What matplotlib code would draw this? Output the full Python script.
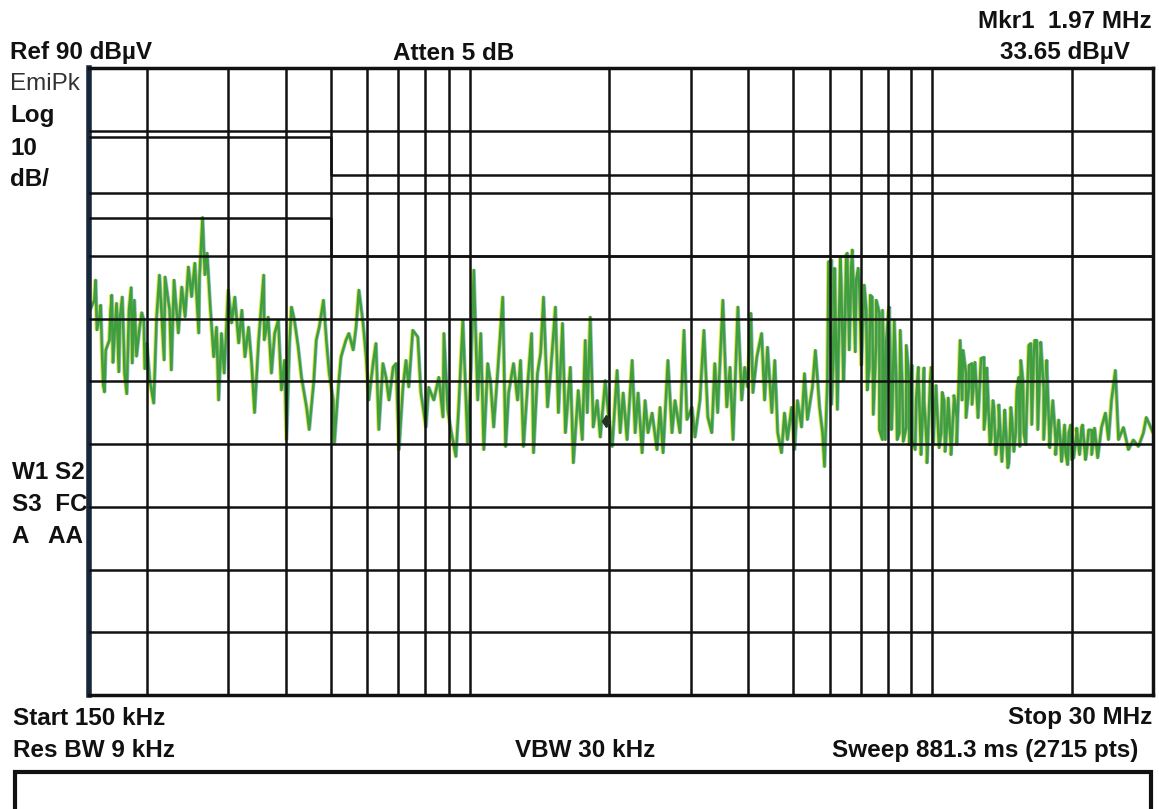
import numpy as np
import matplotlib.pyplot as plt
import matplotlib.transforms as mtransforms
from matplotlib.patches import Rectangle

W, H = 1159, 809

# trace (MHz, dBuV)
trace_lo = [(0.150, 51.0), (0.154, 53.0), (0.155, 56.2), (0.158, 50.3), (0.160, 45.0), (0.162, 38.3),
            (0.166, 46.6), (0.167, 51.4), (0.170, 46.6), (0.172, 52.5), (0.175, 50.3), (0.177, 53.5),
            (0.179, 41.3), (0.183, 51.4), (0.186, 42.9), (0.188, 53.0), (0.193, 48.7), (0.197, 49.8),
            (0.200, 46.1), (0.203, 40.2), (0.207, 36.5), (0.210, 50.3), (0.213, 57.0), (0.218, 43.4),
            (0.219, 56.7), (0.224, 51.4), (0.226, 41.8), (0.229, 56.2), (0.234, 47.7), (0.238, 55.1),
            (0.242, 50.3), (0.246, 58.3), (0.250, 53.5), (0.254, 58.9), (0.259, 47.7), (0.260, 56.7),
            (0.264, 66.2), (0.267, 57.0), (0.270, 60.5), (0.274, 52.5), (0.279, 43.9), (0.283, 48.7),
            (0.286, 37.0), (0.290, 47.7), (0.294, 41.3), (0.300, 54.6), (0.305, 49.3), (0.310, 53.5),
            (0.316, 46.1), (0.321, 51.4), (0.326, 43.9), (0.332, 48.7), (0.337, 42.9), (0.342, 35.0),
            (0.349, 46.6), (0.358, 57.0), (0.359, 46.6), (0.366, 50.3), (0.372, 41.3), (0.378, 47.7),
            (0.385, 49.8), (0.391, 38.6), (0.397, 43.4), (0.401, 30.7), (0.407, 46.1), (0.411, 51.9),
            (0.417, 49.8), (0.425, 45.5), (0.432, 40.7), (0.443, 35.9), (0.449, 32.3), (0.459, 39.8),
            (0.465, 46.6), (0.472, 48.7), (0.482, 53.0), (0.489, 46.6), (0.496, 41.3), (0.506, 37.0),
            (0.509, 30.2), (0.519, 39.1), (0.526, 43.9), (0.539, 46.6), (0.547, 47.7), (0.559, 45.0),
            (0.567, 48.7), (0.575, 54.6), (0.587, 49.3), (0.596, 43.9), (0.604, 37.0), (0.617, 42.9),
            (0.626, 46.1), (0.635, 32.3), (0.648, 42.9), (0.658, 40.7), (0.668, 37.0), (0.682, 42.3),
            (0.692, 42.9), (0.702, 29.1), (0.716, 39.1), (0.727, 43.4), (0.737, 39.1), (0.752, 48.2),
            (0.771, 47.1), (0.783, 38.2), (0.803, 32.7), (0.814, 39.1), (0.835, 37.0), (0.856, 40.7),
            (0.874, 34.3), (0.878, 47.7), (0.895, 35.5), (0.909, 32.3), (0.932, 28.0), (0.945, 35.9),
            (0.965, 49.8), (0.988, 30.2)]

# extra readings in the dense band just above start
band_start = [(0.156, 48.2), (0.159, 52.2), (0.161, 39.4), (0.163, 45.0), (0.168, 53.8), (0.169, 43.0),
              (0.174, 41.5), (0.178, 48.0), (0.181, 38.0), (0.185, 55.0), (0.190, 44.0), (0.195, 51.0),
              (0.198, 42.0)]

trace_mid = [(1.004, 41.3), (1.019, 57.8), (1.039, 37.0), (1.055, 47.7), (1.071, 29.1), (1.092, 42.9),
             (1.108, 39.8), (1.125, 32.7), (1.147, 41.3), (1.177, 53.5), (1.194, 29.6), (1.212, 38.2),
             (1.242, 42.9), (1.267, 37.0), (1.286, 43.4), (1.305, 29.6), (1.331, 39.1), (1.359, 47.7),
             (1.372, 28.6), (1.399, 41.3), (1.421, 44.5), (1.442, 53.5), (1.471, 35.9), (1.493, 41.3),
             (1.530, 51.9), (1.553, 35.0), (1.585, 49.3), (1.608, 31.8), (1.648, 42.3), (1.673, 27.0),
             (1.714, 38.6), (1.749, 30.7), (1.775, 46.6), (1.793, 35.0), (1.820, 50.3), (1.847, 32.7),
             (1.884, 37.0), (1.913, 31.1), (1.961, 40.2), (1.990, 35.0), (2.030, 29.6), (2.080, 41.8),
             (2.112, 31.8), (2.144, 38.2), (2.186, 30.7), (2.242, 43.4), (2.276, 31.8), (2.309, 38.2),
             (2.356, 28.6), (2.391, 37.0), (2.426, 31.8), (2.476, 35.0), (2.537, 29.1), (2.576, 35.9),
             (2.615, 28.6), (2.679, 43.4), (2.734, 31.8), (2.775, 37.0), (2.845, 31.8), (2.902, 48.2),
             (2.945, 33.9), (3.020, 35.9), (3.065, 31.1), (3.142, 37.0), (3.205, 48.2), (3.268, 34.3),
             (3.333, 31.8), (3.383, 42.9), (3.432, 35.0), (3.522, 53.0), (3.591, 35.9), (3.650, 42.3),
             (3.705, 30.7), (3.796, 51.9), (3.868, 37.0), (3.926, 42.3), (3.983, 39.1), (4.050, 50.9),
             (4.090, 38.2), (4.171, 43.9), (4.272, 47.7), (4.336, 37.0), (4.399, 45.5), (4.494, 35.0),
             (4.561, 43.4), (4.628, 31.8), (4.717, 28.6), (4.787, 35.0), (4.857, 30.7), (4.959, 35.9)]

trace_hi = [(5.033, 29.1), (5.106, 37.0), (5.212, 32.7), (5.289, 41.3), (5.366, 33.9), (5.501, 39.1),
            (5.583, 45.0), (5.700, 35.9), (5.786, 31.8), (5.843, 26.4), (5.928, 40.2), (6.050, 59.4),
            (6.140, 48.7), (6.230, 35.5), (6.353, 55.1), (6.447, 43.4), (6.542, 60.5), (6.676, 58.3),
            (6.709, 61.0), (6.841, 56.2), (6.950, 55.1), (7.054, 46.6), (7.193, 51.4), (7.300, 42.3),
            (7.410, 53.5), (7.556, 46.1), (7.680, 50.9), (7.795, 30.7), (7.949, 46.6), (8.070, 51.9),
            (8.191, 35.9), (8.352, 40.2), (8.480, 31.8), (8.607, 39.1), (8.777, 32.7), (8.910, 40.2),
            (9.044, 30.7), (9.222, 37.0), (9.320, 42.3), (9.454, 28.6), (9.594, 37.0), (9.734, 27.0),
            (9.938, 42.3), (10.09, 33.9), (10.23, 35.9), (10.44, 31.8), (10.60, 37.0), (10.75, 32.7),
            (10.97, 29.1), (11.13, 37.0), (11.29, 34.3), (11.48, 46.6), (11.59, 37.0), (11.82, 41.3),
            (12.00, 39.1), (12.18, 42.9), (12.42, 40.2), (12.61, 37.0), (12.93, 43.9), (13.11, 37.0),
            (13.38, 30.7), (13.58, 35.9), (13.92, 32.7), (14.27, 32.3), (14.63, 27.0), (14.85, 34.3),
            (15.14, 31.8), (15.38, 40.7), (15.53, 43.4), (15.76, 31.8), (16.00, 35.9), (16.32, 46.1),
            (16.56, 43.9), (16.81, 46.6), (17.15, 45.5), (17.40, 39.1), (17.66, 39.1), (18.03, 32.7),
            (18.47, 30.7), (18.94, 29.6), (19.41, 28.6), (19.71, 31.8), (20.01, 27.5), (20.50, 31.8),
            (21.02, 32.7), (21.54, 28.6), (22.10, 32.3), (22.64, 29.6), (23.21, 32.7), (23.67, 35.0),
            (24.03, 30.7), (24.39, 37.0), (24.87, 41.8), (25.26, 30.7), (25.89, 32.7), (26.54, 29.1),
            (27.20, 30.7), (27.89, 29.6), (28.59, 31.8), (29.01, 34.3), (30.00, 31.8)]

# dense band 6-11 MHz (alternating top / bottom of the band)
band_6_11 = [(5.96, 59.1), (6.05, 36.3), (6.14, 58.1), (6.23, 35.5), (6.32, 59.7), (6.42, 40.2),
             (6.51, 60.2), (6.61, 45.0), (6.71, 60.7), (6.81, 44.7), (6.91, 58.1), (7.02, 42.6),
             (7.12, 55.4), (7.23, 38.6), (7.34, 53.8), (7.45, 34.7), (7.56, 53.0), (7.68, 32.3),
             (7.80, 51.4), (7.91, 30.7), (8.03, 51.1), (8.15, 32.3), (8.27, 49.8), (8.39, 30.7),
             (8.52, 48.2), (8.65, 30.4), (8.78, 45.8), (8.91, 29.9), (9.04, 42.6), (9.18, 29.1),
             (9.32, 41.5), (9.45, 28.3), (9.59, 42.2), (9.73, 29.4), (9.89, 40.2), (10.04, 29.9),
             (10.18, 39.4), (10.34, 29.4), (10.50, 38.3), (10.65, 28.8), (10.82, 37.4), (10.97, 28.3),
             (11.13, 37.8), (11.29, 29.9)]

# dense band 11-23 MHz
band_11_23 = [(11.65, 45.0), (11.82, 34.2), (12.00, 42.6), (12.18, 36.3), (12.36, 43.1), (12.55, 34.2),
              (12.74, 43.7), (12.93, 32.3), (13.11, 42.2), (13.32, 29.9), (13.52, 37.0), (13.71, 28.3),
              (13.92, 36.3), (14.13, 27.2), (14.34, 35.5), (14.56, 26.2), (14.78, 35.9), (15.00, 28.8),
              (15.22, 38.6), (15.46, 29.6), (15.69, 40.2), (15.92, 29.9), (16.16, 45.8), (16.40, 33.1),
              (16.64, 46.6), (16.90, 32.3), (17.15, 46.3), (17.40, 30.7), (17.66, 43.4), (17.94, 29.4),
              (18.21, 37.0), (18.47, 28.3), (18.75, 33.9), (19.03, 27.2), (19.31, 33.1), (19.61, 26.7),
              (19.91, 33.1), (20.20, 27.8), (20.50, 32.6), (20.81, 28.3), (21.12, 33.1), (21.43, 27.5),
              (21.77, 32.3), (22.10, 28.3), (22.42, 32.6), (22.77, 27.8)]

# limit lines (MHz, dBuV)
qp_freq = [0.15, 0.5, 0.5, 30]
qp_level = [79, 79, 73, 73]
avg_freq = [0.15, 0.5, 0.5, 30]
avg_level = [66, 66, 60, 60]

mkr_freq = 1.97
mkr_level = 33.65

grid_freqs = [0.2, 0.3, 0.4, 0.5, 0.6, 0.7, 0.8, 0.9, 1, 2, 3, 4, 5, 6, 7, 8, 9, 10, 20]
grid_levels = [0, 10, 20, 30, 40, 50, 60, 70, 80]

trace = np.array(trace_lo + band_start + trace_mid + trace_hi + band_6_11 + band_11_23)
trace = trace[np.argsort(trace[:, 0], kind='stable')]
freq = trace[:, 0]
level = trace[:, 1]

fig = plt.figure(figsize=(W / 100, H / 100), dpi=100)
ax = fig.add_axes([89 / W, 1 - 695 / H, (1153 - 89) / W, (695 - 68) / H])
ax.set_xscale('log')
ax.set_xlim(0.15, 30)
ax.set_ylim(-10, 90)

# scan colour fringes then the trace
yel = mtransforms.offset_copy(ax.transData, fig=fig, x=-1.3, y=0, units='dots')
blu = mtransforms.offset_copy(ax.transData, fig=fig, x=1.3, y=0, units='dots')
ax.plot(freq, level, color='#e4e640', lw=1.3, transform=yel, zorder=1)
ax.plot(freq, level, color='#4f8fc0', lw=1.0, alpha=0.6, transform=blu, zorder=1)
ax.plot(freq, level, color='#3f9f3f', lw=1.8, zorder=2)

ax.plot(qp_freq, qp_level, color='#111111', lw=1.8, zorder=3)
ax.plot(avg_freq, avg_level, color='#111111', lw=1.8, zorder=3)
ax.plot([mkr_freq], [mkr_level], marker='d', ms=6, color='#223322', zorder=4)

ax.set_xticks(grid_freqs)
ax.set_xticks([], minor=True)
ax.set_yticks(grid_levels)
ax.tick_params(which='both', length=0, labelbottom=False, labelleft=False)
ax.grid(True, color='#111111', lw=1.8)
ax.set_axisbelow(False)
for s in ax.spines.values():
    s.set_linewidth(2.5)
    s.set_color('#111111')
ax.spines['left'].set_linewidth(4)
ax.spines['left'].set_color('#18283a')

font = dict(family='Liberation Sans', fontweight='bold', fontsize=17.5, color='#111111')


def put(x, y, s, ha='left', **kw):
    opts = dict(font)
    opts.update(kw)
    fig.text(x / W, 1 - y / H, s, ha=ha, va='baseline', **opts)


put(10, 59, 'Ref 90 dBµV')
put(10, 90, 'EmiPk', fontweight='normal', color='#333333')
put(10, 122, 'Log')
put(10, 155, '10')
put(10, 186, 'dB/')
put(393, 60, 'Atten 5 dB')
put(1152, 28, 'Mkr1  1.97 MHz', ha='right')
put(1130, 59, '33.65 dBµV', ha='right')
put(12, 479, 'W1 S2')
put(12, 511, 'S3  FC')
put(12, 543, 'A   AA')
put(13, 725, 'Start 150 kHz')
put(13, 757, 'Res BW 9 kHz')
put(515, 757, 'VBW 30 kHz')
put(1152, 724, 'Stop 30 MHz', ha='right')
put(1138, 757, 'Sweep 881.3 ms (2715 pts)', ha='right')

fig.add_artist(Rectangle((15 / W, -0.02), (1151 - 15) / W, 0.02 + (809 - 772) / H,
                         transform=fig.transFigure, fill=False, lw=3, color='#111111'))

fig.savefig('out.png', dpi=100)
